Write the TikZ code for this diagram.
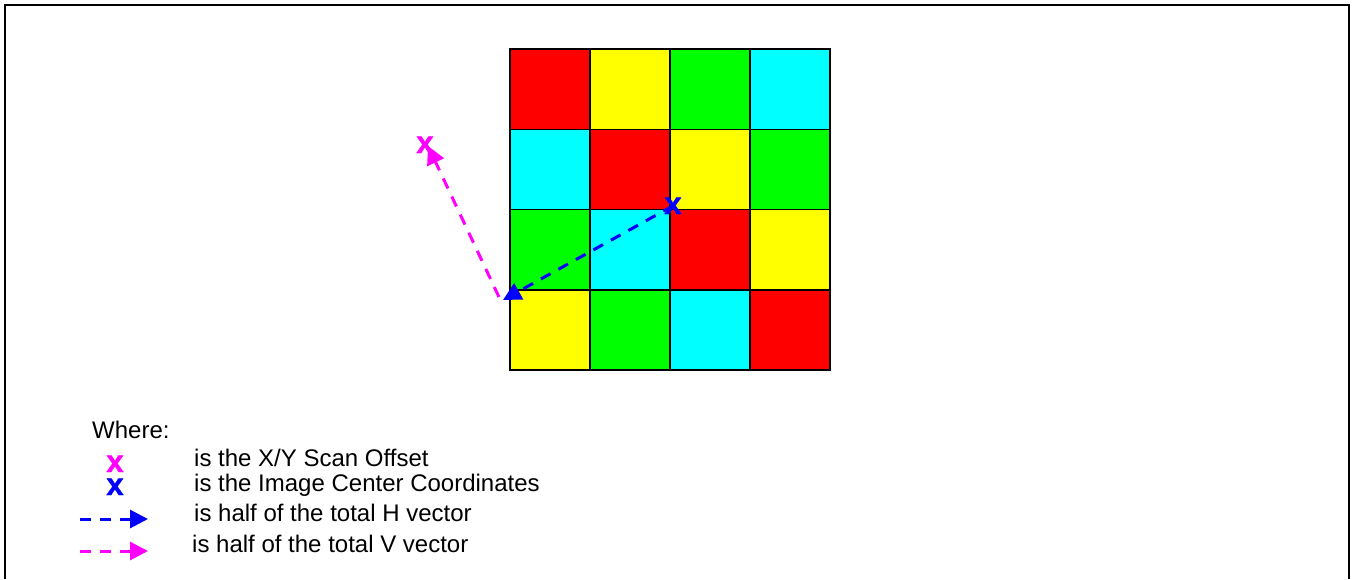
\documentclass[tikz,border=0pt]{standalone}
\usepackage{fontspec}
\setmainfont{Liberation Sans}
\newfontfamily\markfont[FakeBold=1.2]{Liberation Sans Bold}
\usetikzlibrary{arrows.meta}
\definecolor{scancyan}{RGB}{0,255,255}
\definecolor{scanmagenta}{RGB}{255,0,255}
\definecolor{scanblue}{RGB}{0,0,255}
\definecolor{scanred}{RGB}{255,0,0}
\definecolor{scangreen}{RGB}{0,255,0}
\definecolor{scanyellow}{RGB}{255,255,0}

\begin{document}
\begin{tikzpicture}[x=1pt,y=-1pt,>=Stealth,
    legtext/.style={anchor=base west,inner sep=0pt,font=\fontsize{24}{28}\selectfont},
    markx/.style={anchor=base,inner sep=0pt,font=\fontsize{31}{34}\selectfont\markfont},
    vecline/.style={line width=3pt,dash pattern=on 11pt off 9pt,-{Triangle[length=18pt,width=18pt,sep=0pt]}}]
            \useasboundingbox (0,0) rectangle (1354,579);
            \draw [line width=1.2pt] (5,579) -- (5,5) -- (1349,5) -- (1349,579);
            % the 4x4 colour grid
            \foreach \row/\cols in {0/{scanred,scanyellow,scangreen,scancyan},1/{scancyan,scanred,scanyellow,scangreen},2/{scangreen,scancyan,scanred,scanyellow},3/{scanyellow,scangreen,scancyan,scanred}} {
                \foreach \c [count=\col from 0] in \cols {
                    \filldraw [fill=\c,draw=black,line width=1.5pt] (510+80*\col,49+80.25*\row) rectangle ++(80,80.25);
                }
            }
            \coordinate (corner) at (503,300);
            \coordinate (offsettip) at (428,146);
            \draw [vecline,scanmagenta] (499,297) -- (offsettip);
            \node [markx,scanmagenta] (offset) at (425,153) {x};
            \node [markx,scanblue] (center) at (673,214) {x};
            \draw [vecline,scanblue] (center.center) -- (corner);
            % legend
            \node [legtext] (where) at (92,438) {Where:};
            \node [markx,scanmagenta] (legoffset) at (115,472) {x};
            \node [legtext] (txtoffset) at (194,466.5) {is the X/Y Scan Offset};
            \node [markx,scanblue] (legcenter) at (115,495) {x};
            \node [legtext] (txtcenter) at (194,491) {is the Image Center Coordinates};
            \coordinate (hstart) at (80,519);
            \coordinate (hend) at (148,519);
            \draw [vecline,scanblue] (hstart) -- (hend);
            \node [legtext] (txth) at (194,521.5) {is half of the total H vector};
            \coordinate (vstart) at (80,551);
            \coordinate (vend) at (148,551);
            \draw [vecline,scanmagenta] (vstart) -- (vend);
            \node [legtext] (txtv) at (192,552.5) {is half of the total V vector};
        \end{tikzpicture}
\end{document}
